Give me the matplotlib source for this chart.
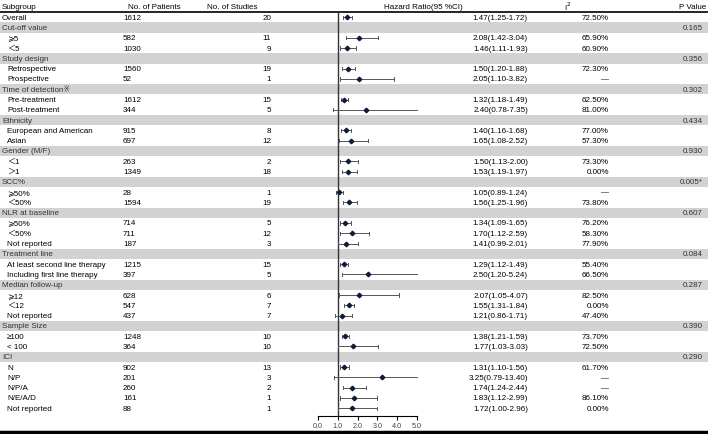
import matplotlib
matplotlib.use("Agg")
import matplotlib.pyplot as plt

plt.rcParams['font.family'] = ['Liberation Sans', 'DejaVu Sans', 'Noto Sans CJK SC']

# rows: (label, is_group_header)
labels = ["Overall",
          "Cut-off value", "⩾5", "＜5",
          "Study design", "Retrospective", "Prospective",
          "Time of detection※", "Pre-treatment", "Post-treatment",
          "Ethnicity", "European and American", "Asian",
          "Gender (M/F)", "＜1", "＞1",
          "SCC%", "⩾50%", "＜50%",
          "NLR at baseline", "⩾50%", "＜50%", "Not reported",
          "Treatment line", "At least second line therapy", "Including first line therapy",
          "Median follow-up", "⩾12", "＜12", "Not reported",
          "Sample Size", "≥100", "< 100",
          "ICI", "N", "N/P", "N/P/A", "N/E/A/D", "Not reported"]
is_group = [False,
            True, False, False,
            True, False, False,
            True, False, False,
            True, False, False,
            True, False, False,
            True, False, False,
            True, False, False, False,
            True, False, False,
            True, False, False, False,
            True, False, False,
            True, False, False, False, False, False]
patients = ["1612", "", "582", "1030", "", "1560", "52", "", "1612", "344", "", "915", "697",
            "", "263", "1349", "", "28", "1594", "", "714", "711", "187", "", "1215", "397",
            "", "628", "547", "437", "", "1248", "364", "", "902", "201", "260", "161", "88"]
studies = ["20", "", "11", "9", "", "19", "1", "", "15", "5", "", "8", "12",
           "", "2", "18", "", "1", "19", "", "5", "12", "3", "", "15", "5",
           "", "6", "7", "7", "", "10", "10", "", "13", "3", "2", "1", "1"]
hr = [1.47, None, 2.08, 1.46, None, 1.50, 2.05, None, 1.32, 2.40, None, 1.40, 1.65,
      None, 1.50, 1.53, None, 1.05, 1.56, None, 1.34, 1.70, 1.41, None, 1.29, 2.50,
      None, 2.07, 1.55, 1.21, None, 1.38, 1.77, None, 1.31, 3.25, 1.74, 1.83, 1.72]
lo = [1.25, None, 1.42, 1.11, None, 1.20, 1.10, None, 1.18, 0.78, None, 1.16, 1.08,
      None, 1.13, 1.19, None, 0.89, 1.25, None, 1.09, 1.12, 0.99, None, 1.12, 1.20,
      None, 1.05, 1.31, 0.86, None, 1.21, 1.03, None, 1.10, 0.79, 1.24, 1.12, 1.00]
hi = [1.72, None, 3.04, 1.93, None, 1.88, 3.82, None, 1.49, 7.35, None, 1.68, 2.52,
      None, 2.00, 1.97, None, 1.24, 1.96, None, 1.65, 2.59, 2.01, None, 1.49, 5.24,
      None, 4.07, 1.84, 1.71, None, 1.59, 3.03, None, 1.56, 13.40, 2.44, 2.99, 2.96]
i2 = ["72.50%", "", "65.90%", "60.90%", "", "72.30%", "—", "", "62.50%", "81.00%", "", "77.00%", "57.30%",
      "", "73.30%", "0.00%", "", "—", "73.80%", "", "76.20%", "58.30%", "77.90%", "", "55.40%", "66.50%",
      "", "82.50%", "0.00%", "47.40%", "", "73.70%", "72.50%", "", "61.70%", "—", "—", "86.10%", "0.00%"]
pval = ["", "0.165", "", "", "0.356", "", "", "0.302", "", "", "0.434", "", "",
        "0.930", "", "", "0.005*", "", "", "0.607", "", "", "", "0.084", "", "",
        "0.287", "", "", "", "0.390", "", "", "0.290", "", "", "", "", ""]
headers = ["Subgroup", "No. of Patients", "No. of Studies", "Hazard Ratio(95 %CI)", "I$^2$", "P Value"]

W, H = 708, 435
fs = 5.8
row0, dy = 18.2, 10.29
xmax = 5.0

fig = plt.figure(figsize=(W / 100, H / 100), dpi=100)
ax = fig.add_axes([0, 0, 1, 1])
ax.set_xlim(0, W)
ax.set_ylim(H, 0)
ax.axis('off')

ys = [row0 + i * dy for i in range(len(labels))]

# grey bands for group rows
for y, g in zip(ys, is_group):
    if g:
        ax.axhspan(y - dy / 2, y + dy / 2, color='#d2d2d2', lw=0, zorder=0)

# header
hy = 7.5
ax.text(2, hy, headers[0], fontsize=fs, va='center', ha='left')
ax.text(128, hy, headers[1], fontsize=fs, va='center', ha='left')
ax.text(207, hy, headers[2], fontsize=fs, va='center', ha='left')
ax.text(423, hy, headers[3], fontsize=fs, va='center', ha='center')
ax.text(568, hy - 1, headers[4], fontsize=fs, va='center', ha='center')
ax.text(706, hy, headers[5], fontsize=fs, va='center', ha='right')
ax.plot([0, W], [13.2, 13.2], color='black', lw=1.2)
ax.plot([0, W], [432.5, 432.5], color='black', lw=2.5)

for i, y in enumerate(ys):
    indent = 2 if (is_group[i] or i == 0) else 7
    ax.text(indent, y, labels[i], fontsize=fs, va='center', ha='left',
            color='#333333' if is_group[i] else 'black')
    ax.text(123, y, patients[i], fontsize=fs, va='center', ha='left')
    ax.text(271, y, studies[i], fontsize=fs, va='center', ha='right')
    if hr[i] is not None:
        ax.text(528, y, f"{hr[i]:.2f}({lo[i]:.2f}-{hi[i]:.2f})", fontsize=fs, va='center', ha='right')
    ax.text(609, y, i2[i], fontsize=fs, va='center', ha='right')
    ax.text(703, y, pval[i], fontsize=fs, va='center', ha='right', color='#333333')

# forest panel
x0, x1 = 318, 417
ybot, ytop = 416.5, 13.5
fax = fig.add_axes([x0 / W, (H - ybot) / H, (x1 - x0) / W, (ybot - ytop) / H])
fax.set_xlim(0, xmax)
fax.set_ylim(ybot, ytop)
fax.patch.set_alpha(0)
for s in ['left', 'right', 'top']:
    fax.spines[s].set_visible(False)
fax.spines['bottom'].set_linewidth(0.8)
fax.set_yticks([])
fax.set_xticks([0, 1, 2, 3, 4, 5])
fax.set_xticklabels(["0.0", "1.0", "2.0", "3.0", "4.0", "5.0"], fontsize=5.2, color='#444444')
fax.tick_params(axis='x', length=3, width=0.8, pad=2)
fax.axvline(1.0, color='#333333', lw=1.0)

for i, y in enumerate(ys):
    if hr[i] is None:
        continue
    right = min(hi[i], xmax)
    fax.plot([lo[i], right], [y, y], color='#555555', lw=0.7, clip_on=False)
    fax.plot([lo[i], lo[i]], [y - 1.6, y + 1.6], color='#555555', lw=0.7, clip_on=False)
    if hi[i] <= xmax:
        fax.plot([hi[i], hi[i]], [y - 1.6, y + 1.6], color='#555555', lw=0.7, clip_on=False)
    fax.plot(hr[i], y, marker='D', ms=2.3, color='#0d1b3d', mec='#0d1b3d', clip_on=False, zorder=3)

fig.savefig("out.png", dpi=100)
